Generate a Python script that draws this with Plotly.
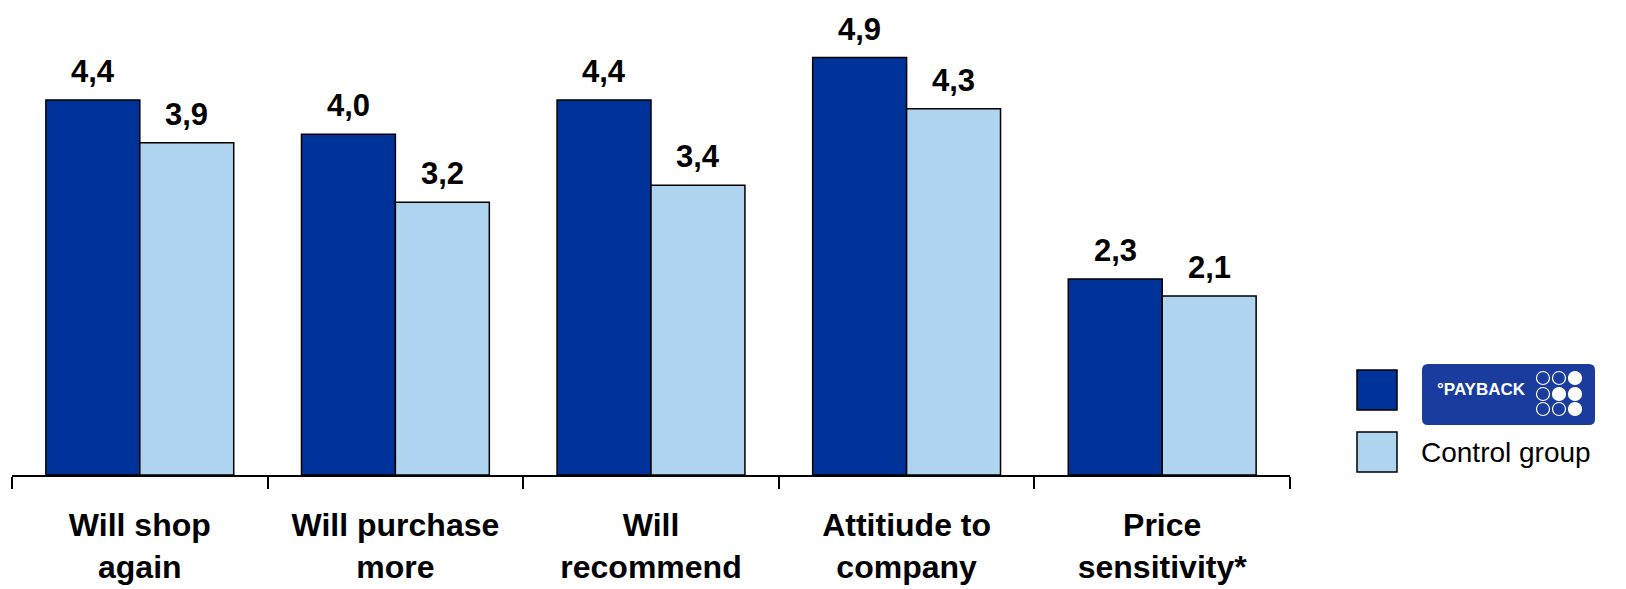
import plotly.graph_objects as go

# Survey scores per statement
categories = ["Will shop<br>again", "Will purchase<br>more", "Will<br>recommend",
              "Attitiude to<br>company", "Price<br>sensitivity*"]
payback_scores = [4.4, 4.0, 4.4, 4.9, 2.3]
control_scores = [3.9, 3.2, 3.4, 4.3, 2.1]
series_names = ["PAYBACK", "Control group"]

DARK = "#003399"
LIGHT = "#AED4F0"
FONT = "Liberation Sans, Arial, sans-serif"

W, H = 1626, 589
ML, MR, MT, MB = 12, 336, 0, 114
BARGAP = 0.265
Y_MAX = 5.575

fig = go.Figure()
for name, vals, col in [(series_names[0], payback_scores, DARK),
                        (series_names[1], control_scores, LIGHT)]:
    fig.add_trace(go.Bar(
        name=name, x=categories, y=vals,
        marker=dict(color=col, line=dict(color="black", width=1.5)),
        showlegend=False, hoverinfo="x+y",
    ))

# value labels above each bar, offset to the bar's slot within the group
bar_w = (1 - BARGAP) / 2
annotations = []
for k, vals in enumerate([payback_scores, control_scores]):
    off = (k - 0.5) * bar_w
    for i, v in enumerate(vals):
        annotations.append(dict(
            x=i + off, y=v, xref="x", yref="y",
            text=f"{v:.1f}".replace(".", ","),
            showarrow=False, yanchor="bottom", yshift=10, borderpad=0,
            font=dict(family=FONT, size=31, color="black", weight="bold"),
        ))

# helpers to place the legend block in pixel terms
pw, ph = W - ML - MR, H - MT - MB
def px(x):
    return (x - ML) / pw
def py(y):
    return (H - MB - y) / ph

shapes = []
# legend swatches
shapes.append(dict(type="rect", xref="paper", yref="paper",
                   x0=px(1357), x1=px(1397), y0=py(370), y1=py(410),
                   fillcolor=DARK, line=dict(color="black", width=1.5)))
shapes.append(dict(type="rect", xref="paper", yref="paper",
                   x0=px(1357), x1=px(1397), y0=py(432), y1=py(472),
                   fillcolor=LIGHT, line=dict(color="black", width=1.5)))

# PAYBACK badge: rounded rectangle
bx0, bx1, by0, by1, r = 1422, 1595, 364, 425, 6
path = (f"M {px(bx0 + r)},{py(by0)} L {px(bx1 - r)},{py(by0)} "
        f"Q {px(bx1)},{py(by0)} {px(bx1)},{py(by0 + r)} "
        f"L {px(bx1)},{py(by1 - r)} Q {px(bx1)},{py(by1)} {px(bx1 - r)},{py(by1)} "
        f"L {px(bx0 + r)},{py(by1)} Q {px(bx0)},{py(by1)} {px(bx0)},{py(by1 - r)} "
        f"L {px(bx0)},{py(by0 + r)} Q {px(bx0)},{py(by0)} {px(bx0 + r)},{py(by0)} Z")
shapes.append(dict(type="path", xref="paper", yref="paper", path=path,
                   fillcolor="#1A3C9E", line=dict(width=0)))

# 3x3 dot grid on the badge
dot_x = [1543, 1559, 1575]
dot_y = [378, 394, 409]
filled = [[0, 0, 1], [0, 1, 1], [0, 0, 1]]
rad = 6.5
for ri, cy in enumerate(dot_y):
    for ci, cx in enumerate(dot_x):
        f = filled[ri][ci]
        shapes.append(dict(type="circle", xref="paper", yref="paper",
                           x0=px(cx - rad), x1=px(cx + rad),
                           y0=py(cy + rad), y1=py(cy - rad),
                           fillcolor="white" if f else "rgba(0,0,0,0)",
                           line=dict(color="white", width=1.2)))

annotations.append(dict(
    x=px(1435), y=py(389), xref="paper", yref="paper",
    xanchor="left", yanchor="middle", showarrow=False,
    text="°PAYBACK",
    font=dict(family=FONT, size=17, color="white", weight="bold"),
))
annotations.append(dict(
    x=px(1419), y=py(452), xref="paper", yref="paper",
    xanchor="left", yanchor="middle", showarrow=False,
    text=series_names[1],
    font=dict(family=FONT, size=28, color="black"),
))

fig.update_layout(
    width=W, height=H,
    margin=dict(l=ML, r=MR, t=MT, b=MB),
    paper_bgcolor="white", plot_bgcolor="white",
    barmode="group", bargap=BARGAP, bargroupgap=0,
    showlegend=False,
    annotations=annotations, shapes=shapes,
    xaxis=dict(
        type="category", tickson="boundaries",
        showline=True, linecolor="black", linewidth=1.5,
        ticks="outside", ticklen=12, tickwidth=1.5, tickcolor="black",
        ticklabelstandoff=21,
        tickfont=dict(family=FONT, size=32, color="black", weight="bold"),
        showgrid=False, zeroline=False,
    ),
    yaxis=dict(range=[0, Y_MAX], visible=False, showgrid=False),
)

fig.write_html("out.html")
